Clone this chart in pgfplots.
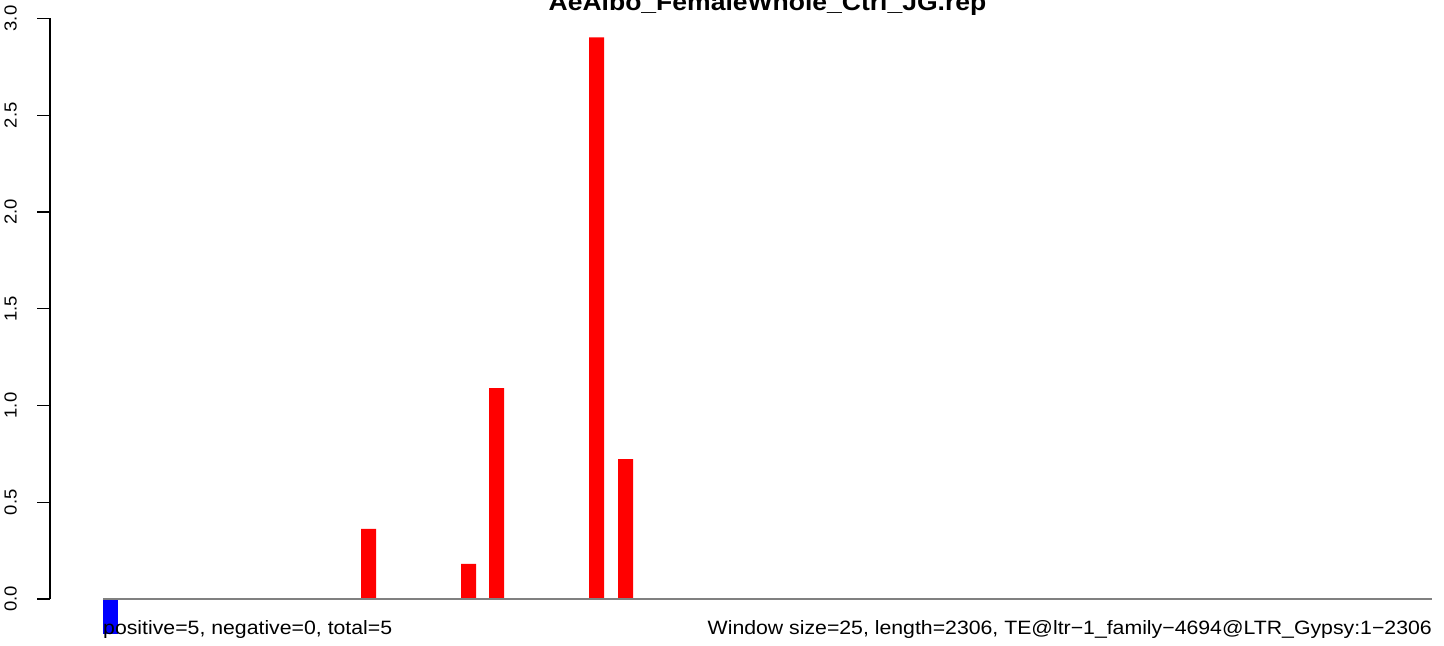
\documentclass[border=0pt]{standalone}
\usepackage{fontspec}
\setmainfont{Liberation Sans}
\usepackage{pgfplots}
\pgfplotsset{compat=1.18}
\usetikzlibrary{calc}
\begin{document}
\begin{tikzpicture}
\begin{axis}[
  name=ax,
  scale only axis,
  width=1382bp, height=580.5bp,
  xmin=-92, xmax=2306, ymin=0, ymax=3,
  clip=false,
  axis x line=none,
  axis y line*=left,
  y axis line style={line width=1.3bp, black},
  ytick={0,0.5,1,1.5,2,2.5,3},
  ytick pos=left,
  tick align=outside,
  major tick length=12.5bp,
  every tick/.style={line width=1.3bp, black},
  /pgf/number format/.cd, fixed, fixed zerofill, precision=1, assume math mode=true,
  /pgfplots/.cd,
  yticklabel={\scalebox{1.06}[1]{\pgfmathprintnumber{\tick}}},
  yticklabel style={font=\fontsize{17.5}{19}\selectfont, rotate=90, anchor=south, inner sep=0pt},
  yticklabel shift=20.5bp,
]
\addplot[ybar, bar width=26, bar shift=0pt, fill=red, draw=none]
  coordinates {(460.7,0.362) (634.2,0.181) (682.8,1.090) (856.3,2.903) (906.6,0.7235)};
\addplot[ybar, bar width=26, bar shift=0pt, fill=blue, draw=none]
  coordinates {(13,-0.18)};
\addplot[black!50, line width=1.5bp] coordinates {(0,0) (2306,0)};
\node[anchor=base west, inner sep=0pt] at (axis cs:0,-0.181)
  {\fontsize{19.4}{22}\selectfont\scalebox{1.1}[1]{positive=5, negative=0, total=5}};
\node[anchor=base east, inner sep=0pt] at (axis cs:2306,-0.181)
  {\fontsize{19.4}{22}\selectfont\scalebox{1.1}[1]{Window size=25, length=2306, TE@ltr−1\_family−4694@LTR\_Gypsy:1−2306}};
\node[anchor=base, inner sep=0pt] at (axis cs:1153,3.041)
  {\fontsize{24.2}{26}\selectfont\bfseries\scalebox{1.1}[1]{AeAlbo\_FemaleWhole\_Ctrl\_JG.rep}};
\end{axis}
\pgfresetboundingbox
\path ($(ax.south west)+(-50bp,-47bp)$) rectangle ($(ax.north east)+(12bp,18.5bp)$);
\end{tikzpicture}
\end{document}
